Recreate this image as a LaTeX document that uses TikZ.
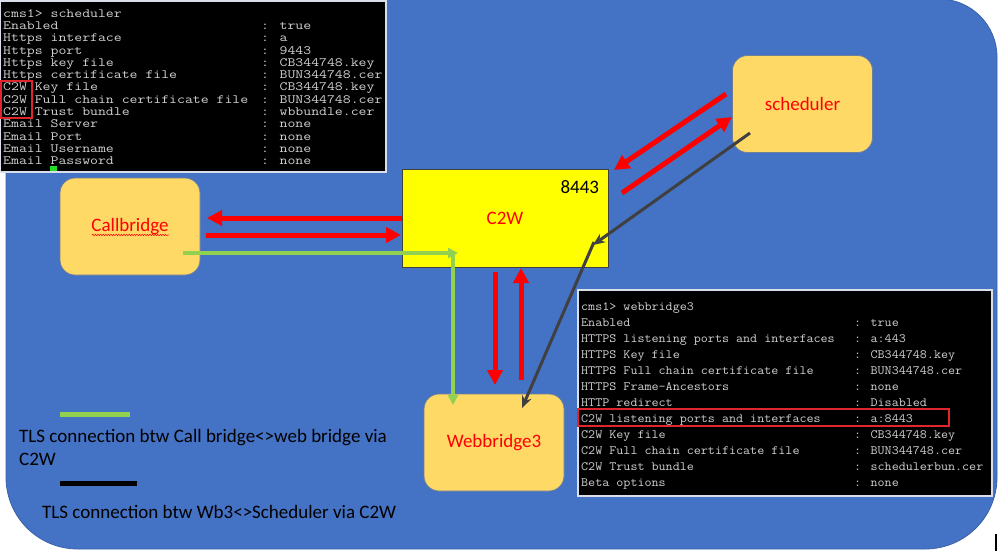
\documentclass[tikz,border=0pt]{standalone}
\usepackage{fontspec}
\usepackage{graphicx}
\newfontfamily\carlito{Carlito}
\usetikzlibrary{arrows.meta,decorations.pathmorphing}
\definecolor{bgblue}{HTML}{4472C4}
\definecolor{bgedge}{HTML}{3A62AA}
\definecolor{boxfill}{HTML}{FFD966}
\definecolor{boxedge}{HTML}{6F7F99}
\definecolor{cyellow}{HTML}{FFFF00}
\definecolor{arrred}{HTML}{FF0000}
\definecolor{lgreen}{HTML}{92D050}
\definecolor{dgray}{HTML}{404040}
\definecolor{termtext}{HTML}{D2D2D2}
\definecolor{termedge}{HTML}{D9DEE8}
\definecolor{hlred}{HTML}{E0262B}
\definecolor{cursorgreen}{HTML}{22DD22}
\newcommand\tAs[1]{\scalebox{1.2185}[1]{#1}}
\newcommand\tBs[1]{\scalebox{1.0854}[1]{#1}}
\begin{document}
\begin{tikzpicture}[x=1pt,y=-1pt,
  lbl/.style={font=\carlito\fontsize{19}{23}\selectfont},
  server/.style={lbl, rectangle, rounded corners=15pt, fill=boxfill, draw=boxedge,
    line width=0.8pt, minimum width=140pt, minimum height=97pt, text=arrred, inner sep=0pt},
  c2wbox/.style={lbl, rectangle, fill=cyellow, draw=dgray, line width=0.6pt,
    minimum width=206pt, minimum height=98pt, text=arrred, inner sep=0pt},
  legtext/.style={lbl, text=black, anchor=base west, inner sep=0pt},
  termbg/.style={fill=black, draw=termedge, line width=1.3pt},
  termA/.style={font=\ttfamily\fontsize{12.6}{14}\selectfont, text=termtext, anchor=base west, inner sep=0pt},
  termB/.style={font=\ttfamily\fontsize{12.6}{14}\selectfont, text=termtext, anchor=base west, inner sep=0pt},
  redbox/.style={draw=hlred, line width=1.6pt},
  redarr/.style={draw=arrred, line width=5pt, -{Triangle[length=15pt,width=15pt]}},
  greenarr/.style={draw=lgreen, line width=3.2pt, -{Triangle[length=10pt,width=10pt]}},
  blackarr/.style={draw=dgray, line width=3pt, -{Stealth[length=12pt,width=10pt]}}
]
\useasboundingbox (0,0) rectangle (999,557);
\fill[white] (0,0) rectangle (999,557);
% blue background
\filldraw[fill=bgblue, draw=bgedge, line width=0.8pt]
  (6,-1) -- (939,-1) .. controls (971,-1) and (997,25) .. (997,57)
  -- (997,477) .. controls (997,517) and (965,549) .. (925,549)
  -- (78,549) .. controls (38,549) and (6,517) .. (6,477) -- cycle;
\draw[black, line width=1.5pt] (996,534) -- (996,551);

% terminal 1 (scheduler)
\path[termbg] (0,1) rectangle (386,172);
\node[termA] (t1h) at (3,17.3) {\tAs{cms1> scheduler}};
\foreach \l/\v [count=\k] in {Enabled/true, Https interface/a, Https port/9443,
  Https key file/CB344748.key, Https certificate file/BUN344748.cer,
  C2W Key file/CB344748.key, C2W Full chain certificate file/BUN344748.cer,
  C2W Trust bundle/wbbundle.cer, Email Server/none, Email Port/none,
  Email Username/none, Email Password/none}
{
  \node[termA] (t1l\k) at (3,{17.3+12.27*\k}) {\tAs{\l}};
  \node[termA] (t1v\k) at (261,{17.3+12.27*\k}) {\tAs{: \v}};
}
\fill[cursorgreen] (50,166) rectangle (57,171);
\draw[redbox] (1,81) rectangle (32,118);

% terminal 2 (webbridge3)
\path[termbg] (578,290) rectangle (992,496);
\node[termB] (t2h) at (581,310) {\tBs{cms1> webbridge3}};
\foreach \l/\v [count=\k] in {Enabled/true, HTTPS listening ports and interfaces/a:443,
  HTTPS Key file/CB344748.key, HTTPS Full chain certificate file/BUN344748.cer,
  HTTPS Frame-Ancestors/none, HTTP redirect/Disabled,
  C2W listening ports and interfaces/a:8443, C2W Key file/CB344748.key,
  C2W Full chain certificate file/BUN344748.cer, C2W Trust bundle/schedulerbun.cer,
  Beta options/none}
{
  \node[termB] (t2l\k) at (581,{310+16.07*\k}) {\tBs{\l}};
  \node[termB] (t2v\k) at (854,{310+16.07*\k}) {\tBs{: \v}};
}
\draw[redbox] (578,409) rectangle (949,426);

% nodes
\node[server] (cb) at (130,226.5) {Callbridge};
\node[server] (sch) at (802.5,104) {scheduler};
\node[server] (wb) at (494,442.5) {Webbridge3};
\node[c2wbox] (c2w) at (505,218) {C2W};
\node[lbl, text=black, anchor=east, inner sep=0pt] (port) at ([xshift=-9pt,yshift=-18pt]c2w.north east) {8443};
\draw[arrred, line width=0.5pt, decorate, decoration={snake, amplitude=0.7pt, segment length=2.6pt}]
  ([xshift=-38pt,yshift=-3.5pt]cb.base) -- ([xshift=39pt,yshift=-3.5pt]cb.base);

% connector end points
\coordinate (cbIn) at (207,218);
\coordinate (cbOut) at (206,235);
\coordinate (c2wIn) at (401,235);
\coordinate (gStart) at (183,253);
\coordinate (gTurn) at (458,253);
\coordinate (gTop) at (453,251);
\coordinate (gEnd) at (453,405);
\coordinate (dnStart) at (495,272);
\coordinate (dnEnd) at (495,385);
\coordinate (upStart) at (521,380);
\coordinate (upEnd) at (521,268);
\coordinate (schOut) at (726,94);
\coordinate (c2wTR) at (614,170);
\coordinate (c2wOut) at (622,193);
\coordinate (schIn) at (732,117);
\coordinate (schLow) at (750,133);
\coordinate (c2wMid) at (593,245);
\coordinate (c2wMid2) at (594,242);
\coordinate (wbIn) at (522,408);

% red arrows
\draw[redarr] (c2w.west) -- (cbIn);
\draw[redarr] (cbOut) -- (c2wIn);
\draw[redarr] (dnStart) -- (dnEnd);
\draw[redarr] (upStart) -- (upEnd);
\draw[redarr] (schOut) -- (c2wTR);
\draw[redarr] (c2wOut) -- (schIn);
% green TLS path
\draw[greenarr] (gStart) -- (gTurn);
\draw[greenarr] (gTop) -- (gEnd);
% dark TLS path
\draw[blackarr] (schLow) -- (c2wMid);
\draw[blackarr] (c2wMid2) -- (wbIn);

% legend
\draw[lgreen, line width=5pt] (60,414) -- (130,414);
\node[legtext] (leg1) at (19,442) {TLS connection btw Call bridge<>web bridge via};
\node[legtext] (leg1b) at (19,465) {C2W};
\draw[black, line width=5pt] (60,483) -- (137,483);
\node[legtext] (leg2) at (42,518) {TLS connection btw Wb3<>Scheduler via C2W};
\end{tikzpicture}
\end{document}
